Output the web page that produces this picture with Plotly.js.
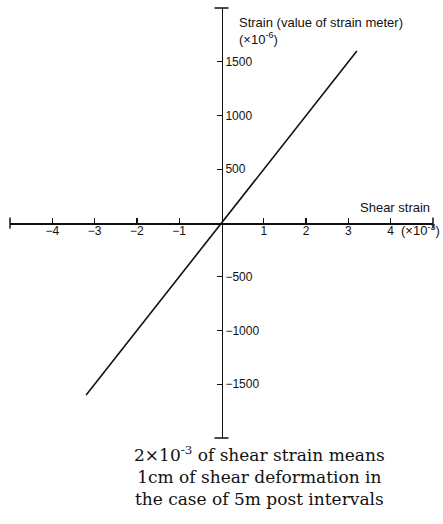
<!DOCTYPE html>
<html>
<head>
<meta charset="utf-8">
<script src="https://cdn.plot.ly/plotly-3.0.1.min.js"></script>
<style>
  html, body { margin: 0; padding: 0; background: #fff; }
  #chart { width: 443px; height: 524px; }
</style>
</head>
<body>
<div id="chart"></div>
<script>
// Shear strain (x10^-3) vs strain meter value (x10^-6)
const shearStrain = [-3.2, 3.2];
const meterValue = [-1600, 1600];

// Axis ticks
const xTickVals = [-4, -3, -2, -1, 1, 2, 3, 4];
const xTickText = ["\u22124", "\u22123", "\u22122", "\u22121", "1", "2", "3", "4"];
const yTickVals = [-1500, -1000, -500, 500, 1000, 1500];
const yTickText = ["\u22121500", "\u22121000", "\u2212500", "500", "1000", "1500"];

// end caps of the two axes
const xCapX = [-5, 5];
const xCapY = [0, 0];
const yCapX = [0, 0];
const yCapY = [-2000, 2000];

const sans = '"Liberation Sans", Arial, sans-serif';

const line = {
  type: "scatter",
  mode: "lines",
  x: shearStrain,
  y: meterValue,
  line: { color: "#111", width: 1.6 },
  cliponaxis: false,
  hoverinfo: "skip",
};

const xCaps = {
  type: "scatter",
  mode: "markers",
  x: xCapX,
  y: xCapY,
  marker: { symbol: "line-ns", size: 8, line: { color: "#111", width: 1.5 } },
  cliponaxis: false,
  hoverinfo: "skip",
};

const yCaps = {
  type: "scatter",
  mode: "markers",
  x: yCapX,
  y: yCapY,
  marker: { symbol: "line-ew", size: 10, line: { color: "#111", width: 1.5 } },
  cliponaxis: false,
  hoverinfo: "skip",
};

const layout = {
  width: 443,
  height: 524,
  margin: { l: 10, r: 10, t: 8, b: 86 },
  paper_bgcolor: "#fff",
  plot_bgcolor: "#fff",
  showlegend: false,
  font: { family: sans, size: 12, color: "#111" },
  xaxis: {
    range: [-5, 5],
    anchor: "free",
    position: 0.5,
    showgrid: false,
    zeroline: false,
    showline: true,
    linecolor: "#111",
    linewidth: 1.5,
    ticks: "inside",
    ticklen: 5,
    tickwidth: 1.3,
    tickcolor: "#111",
    tickmode: "array",
    tickvals: xTickVals,
    ticktext: xTickText,
    ticklabelstandoff: -4,
    tickfont: { family: sans, size: 12 },
  },
  yaxis: {
    range: [-2000, 2000],
    anchor: "free",
    position: 0.5,
    side: "right",
    showgrid: false,
    zeroline: false,
    showline: true,
    linecolor: "#111",
    linewidth: 1.5,
    ticks: "inside",
    ticklen: 5,
    tickwidth: 1.3,
    tickcolor: "#111",
    tickmode: "array",
    tickvals: yTickVals,
    ticktext: yTickText,
    tickfont: { family: sans, size: 12 },
  },
  annotations: [
    {
      xref: "paper", yref: "paper",
      x: 0.537, y: 0.988,
      xanchor: "left", yanchor: "top", align: "left",
      showarrow: false,
      text: "Strain (value of strain meter)<br>(\u00d710<sup>-6</sup>)",
      font: { family: sans, size: 13, color: "#111" },
    },
    {
      xref: "paper", yref: "paper",
      x: 0.998, y: 0.537,
      xanchor: "right", yanchor: "middle",
      showarrow: false,
      text: "Shear strain",
      font: { family: sans, size: 13, color: "#111" },
    },
    {
      xref: "paper", yref: "paper",
      x: 0.92, y: 0.484,
      xanchor: "left", yanchor: "middle",
      showarrow: false,
      text: "(\u00d710<sup>-3</sup>)",
      font: { family: sans, size: 13, color: "#111" },
    },
    {
      xref: "paper", yref: "paper",
      x: 0.591, y: -0.088,
      xanchor: "center", yanchor: "middle", align: "center",
      showarrow: false,
      text: "2\u00d710<sup>-3</sup> of shear strain means<br>1cm of shear deformation in<br>the case of 5m post intervals",
      font: { family: '"DejaVu Serif", "Liberation Serif", serif', size: 17, color: "#111" },
    },
  ],
};

Plotly.newPlot("chart", [line, xCaps, yCaps], layout, { staticPlot: true, displayModeBar: false });
</script>
</body>
</html>
